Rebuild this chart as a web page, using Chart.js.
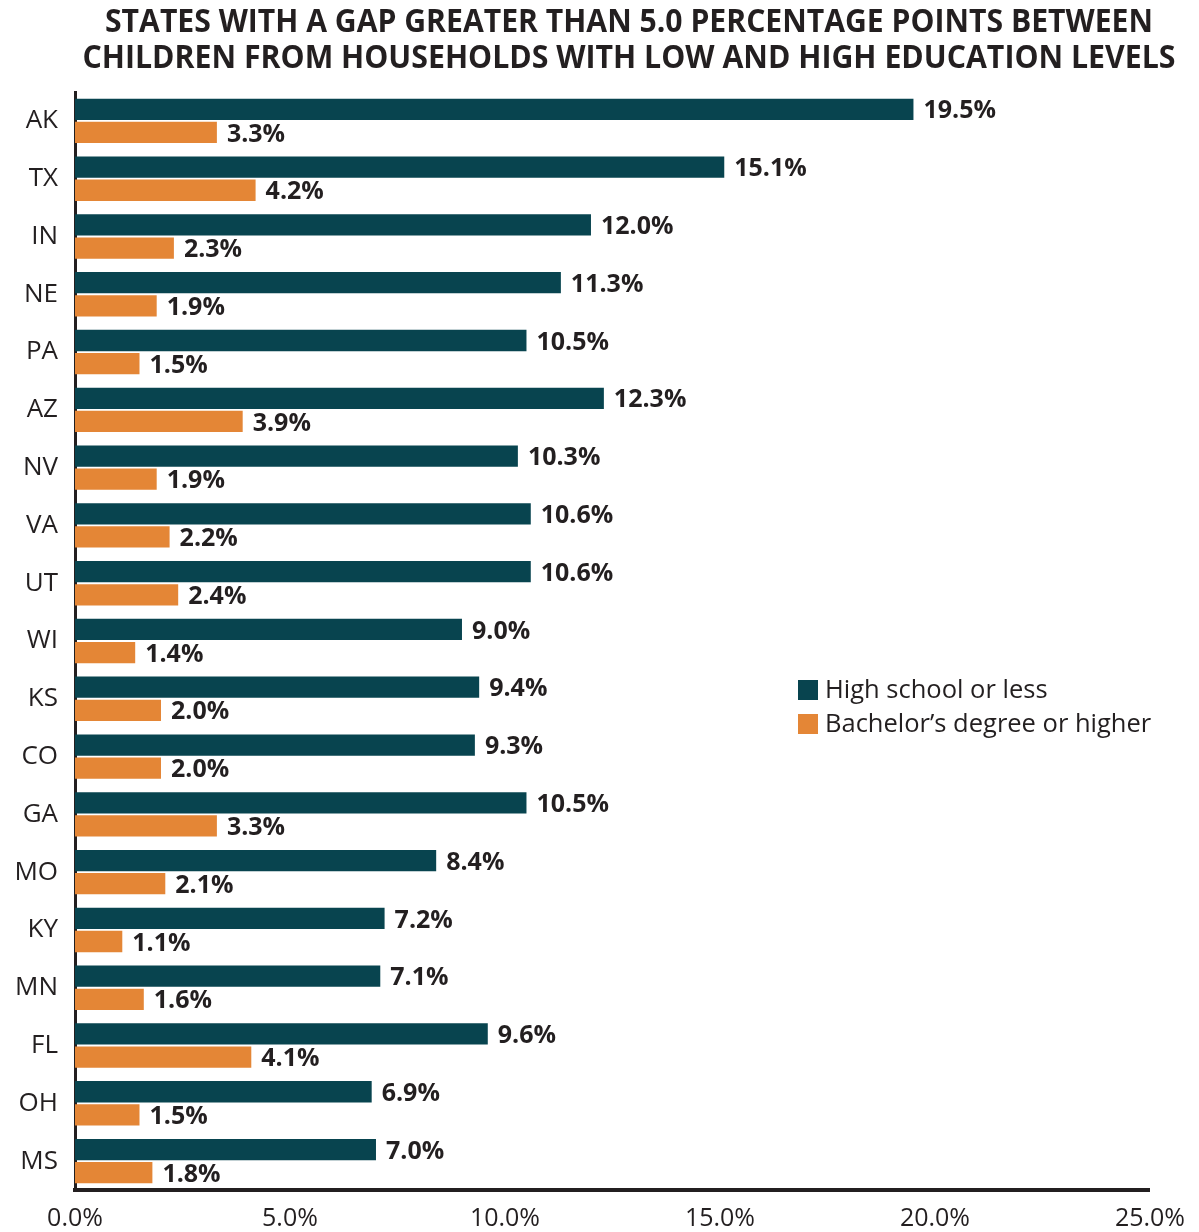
<!DOCTYPE html>
<html>
<head>
<meta charset="utf-8">
<script src="https://cdn.jsdelivr.net/npm/chart.js@4.4.1/dist/chart.umd.min.js"></script>
<style>
  html, body { margin: 0; padding: 0; background: #fff; }
  #wrap { width: 1199px; height: 1232px; }
</style>
</head>
<body>
<div id="wrap"><canvas id="chart"></canvas></div>
<script>
const states = ['AK', 'TX', 'IN', 'NE', 'PA', 'AZ', 'NV', 'VA', 'UT', 'WI', 'KS', 'CO', 'GA', 'MO', 'KY', 'MN', 'FL', 'OH', 'MS'];
const highSchool = [19.5, 15.1, 12.0, 11.3, 10.5, 12.3, 10.3, 10.6, 10.6, 9.0, 9.4, 9.3, 10.5, 8.4, 7.2, 7.1, 9.6, 6.9, 7.0];
const bachelor = [3.3, 4.2, 2.3, 1.9, 1.5, 3.9, 1.9, 2.2, 2.4, 1.4, 2.0, 2.0, 3.3, 2.1, 1.1, 1.6, 4.1, 1.5, 1.8];
const seriesNames = ['High school or less', 'Bachelor\u2019s degree or higher'];
const titleLines = ['STATES WITH A GAP GREATER THAN 5.0 PERCENTAGE POINTS BETWEEN', 'CHILDREN FROM HOUSEHOLDS WITH LOW AND HIGH EDUCATION LEVELS'];

const TEAL = '#08444f';
const ORANGE = '#e48636';
const INK = '#231f20';
const BODY = '"Open Sans", "Noto Sans", sans-serif';

// condensed two-line heading (no condensed font installed, so squeeze it)
const heading = {
    id: 'heading',
    afterDraw(chart) {
        const ctx = chart.ctx;
        const widths = [1048, 1093];
        ctx.save();
        ctx.font = 'bold 33px ' + BODY;
        ctx.fillStyle = INK;
        ctx.textBaseline = 'middle';
        ctx.textAlign = 'center';
        titleLines.forEach((line, i) => {
            const w = ctx.measureText(line).width;
            const k = widths[i] / w;
            ctx.save();
            ctx.translate(629, 23 + i * 36);
            ctx.scale(k, 1);
            ctx.fillText(line, 0, 0);
            ctx.restore();
        });
        ctx.restore();
    }
};

// value labels at the end of each bar
const barLabels = {
    id: 'barLabels',
    afterDatasetsDraw(chart) {
        const ctx = chart.ctx;
        ctx.save();
        ctx.font = 'bold 25px ' + BODY;
        ctx.fillStyle = INK;
        ctx.textBaseline = 'middle';
        chart.data.datasets.forEach((ds, i) => {
            chart.getDatasetMeta(i).data.forEach((bar, j) => {
                ctx.fillText(ds.data[j].toFixed(1) + '%', bar.x + 10, bar.y + 2);
            });
        });
        ctx.restore();
    }
};

// legend sitting inside the plot, right side
const insideLegend = {
    id: 'insideLegend',
    afterDraw(chart) {
        const ctx = chart.ctx;
        ctx.save();
        ctx.font = '25.5px ' + BODY;
        ctx.textBaseline = 'middle';
        chart.data.datasets.forEach((ds, i) => {
            const y = 690 + i * 34;
            ctx.fillStyle = ds.backgroundColor;
            ctx.fillRect(798, y - 10, 20, 20);
            ctx.fillStyle = INK;
            ctx.fillText(ds.label, 825, y + 1);
        });
        ctx.restore();
    }
};

new Chart(document.getElementById('chart'), {
    type: 'bar',
    data: {
        labels: states,
        datasets: [
            { label: seriesNames[0], data: highSchool, backgroundColor: TEAL },
            { label: seriesNames[1], data: bachelor, backgroundColor: ORANGE }
        ]
    },
    options: {
        indexAxis: 'y',
        responsive: true,
        maintainAspectRatio: false,
        animation: false,
        categoryPercentage: 0.8,
        barPercentage: 0.92,
        layout: { padding: { left: 0, right: 47, top: 92, bottom: 0 } },
        plugins: {
            legend: { display: false },
            tooltip: { enabled: false },
            title: { display: false }
        },
        scales: {
            x: {
                min: 0,
                max: 25,
                ticks: {
                    stepSize: 5,
                    color: INK,
                    font: { family: BODY, size: 25 },
                    padding: 14,
                    maxRotation: 0,
                    callback: v => v.toFixed(1) + '%'
                },
                grid: { display: false, drawTicks: false },
                border: { display: true, color: INK, width: 4 },
                afterFit(scale) { scale.height = 42; }
            },
            y: {
                ticks: {
                    color: INK,
                    font: { family: BODY, size: 26 },
                    padding: 17
                },
                grid: { display: false, drawTicks: false },
                border: { display: true, color: INK, width: 3 },
                afterFit(scale) { scale.width = 75; }
            }
        }
    },
    plugins: [barLabels, insideLegend, heading]
});
</script>
</body>
</html>
